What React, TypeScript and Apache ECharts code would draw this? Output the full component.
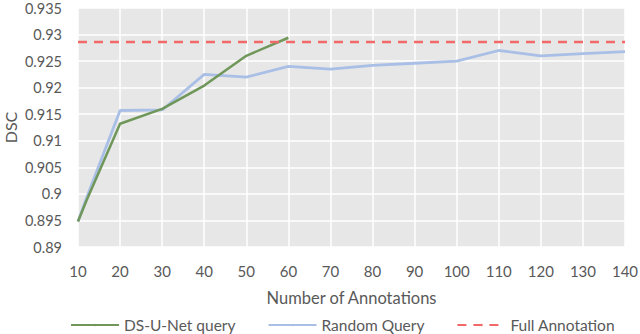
import React, { useEffect, useRef } from "react";
import * as echarts from "echarts";

const dsUNetX = [10, 12, 20, 30, 40, 50, 60];
const dsUNetY = [0.8948, 0.8987, 0.9132, 0.916, 0.9204, 0.926, 0.9294];
const randomX = [10, 12, 20, 30, 40, 50, 60, 70, 80, 90, 100, 110, 120, 130, 140];
const randomY = [0.8948, 0.8992, 0.9157, 0.9158, 0.9225, 0.922, 0.924, 0.9235, 0.9242, 0.9246, 0.925, 0.927, 0.926, 0.9264, 0.9268];
const fullX = [10, 140];
const fullY = [0.9286, 0.9286];
const seriesNames = ["DS-U-Net query", "Random Query", "Full Annotation"];

const FONT = "Lato, 'Open Sans', sans-serif";
const TXT = "#595959";

export default function App() {
  const ref = useRef<HTMLDivElement>(null);
  useEffect(() => {
    if (!ref.current) return;
    const chart = echarts.init(ref.current, undefined, { renderer: "svg" });
    const zip = (xs: number[], ys: number[]) => xs.map((x, i) => [x, ys[i]]);
    chart.setOption({
      animation: false,
      textStyle: { fontFamily: FONT, color: TXT },
      grid: {
        left: 78,
        right: 15,
        top: 8,
        bottom: 87,
        show: true,
        backgroundColor: "#e7e7e7",
        borderWidth: 0,
        containLabel: false,
        outerBoundsMode: "none",
      },
      legend: {
        left: 65,
        top: 312,
        itemWidth: 48,
        itemHeight: 3,
        itemGap: 32,
        textStyle: { fontFamily: FONT, color: TXT, fontSize: 15.5 },
        data: seriesNames,
      },
      xAxis: {
        type: "value",
        min: 10,
        max: 140,
        interval: 10,
        name: "Number of Annotations",
        nameLocation: "middle",
        nameGap: 42,
        nameMoveOverlap: false,
        nameTextStyle: { fontFamily: FONT, color: TXT, fontSize: 16.5 },
        axisLine: { show: false },
        axisTick: { show: false },
        axisLabel: { color: TXT, fontSize: 15, fontFamily: FONT, margin: 16 },
        splitLine: { show: true, lineStyle: { color: "#ffffff", width: 1.5 } },
      },
      yAxis: {
        type: "value",
        min: 0.89,
        max: 0.935,
        interval: 0.005,
        name: "DSC",
        nameLocation: "middle",
        nameGap: 60,
        nameMoveOverlap: false,
        nameTextStyle: { fontFamily: FONT, color: TXT, fontSize: 16, lineHeight: 16 },
        axisLine: { show: false },
        axisTick: { show: false },
        axisLabel: {
          color: TXT,
          fontSize: 14.5,
          lineHeight: 14,
          fontFamily: FONT,
          margin: 16,
          formatter: (v: number) => parseFloat(v.toFixed(3)).toString(),
        },
        splitLine: { show: true, lineStyle: { color: "#ffffff", width: 1.5 } },
      },
      series: [
        {
          name: seriesNames[1],
          type: "line",
          data: zip(randomX, randomY),
          symbol: "none",
          lineStyle: { color: "#a9bfe6", width: 2.8 },
          itemStyle: { color: "#a9bfe6" },
        },
        {
          name: seriesNames[0],
          type: "line",
          data: zip(dsUNetX, dsUNetY),
          symbol: "none",
          lineStyle: { color: "#6f975a", width: 2.5 },
          itemStyle: { color: "#6f975a" },
        },
        {
          name: seriesNames[2],
          type: "line",
          data: zip(fullX, fullY),
          symbol: "none",
          lineStyle: { color: "#f06a6a", width: 2.5, type: [9, 7] },
          itemStyle: { color: "#f06a6a" },
        },
      ],
    });
    return () => chart.dispose();
  }, []);
  return <div ref={ref} style={{ width: 640, height: 334, position: "absolute", left: 0, top: 0 }} />;
}
